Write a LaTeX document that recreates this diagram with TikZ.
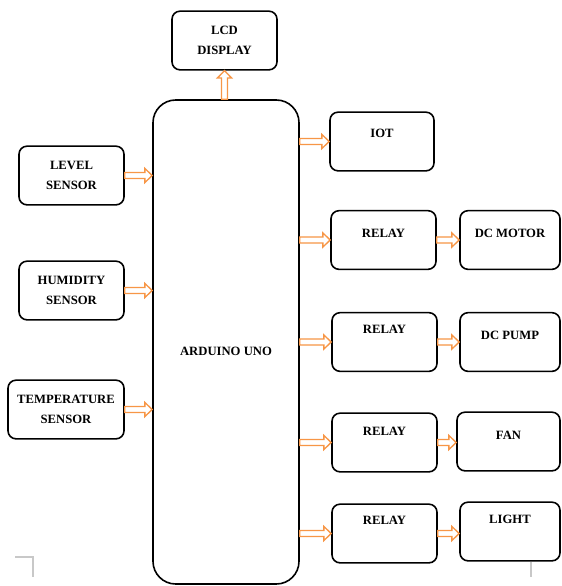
\documentclass[tikz,border=0pt]{standalone}
\usepackage{fontspec}
\setmainfont{Liberation Serif}
\usepackage{tikz}
\usetikzlibrary{calc}
\definecolor{arroworange}{RGB}{247,150,70}
\definecolor{markgray}{RGB}{200,200,200}

\begin{document}
\begin{tikzpicture}[x=0.75pt, y=-0.75pt,
  box/.style={draw, line width=1.2pt, rounded corners=6pt, align=center,
    inner sep=0pt, minimum width=78.75pt, minimum height=44pt,
    font=\fontsize{9.5}{14.5}\selectfont\bfseries},
  blockarrow/.style={draw=arroworange, line width=1pt, fill=white,
    to path={let \p1=(\tikztostart), \p2=(\tikztotarget),
      \p3=($(\p2)!5.5pt!(\p1)$) in
      ($(\p1)!2.3pt!90:(\p2)$) -- ($(\p3)!2.3pt!90:(\p2)$)
      -- ($(\p3)!5.3pt!90:(\p2)$) -- (\p2)
      -- ($(\p3)!5.3pt!-90:(\p2)$) -- ($(\p3)!2.3pt!-90:(\p2)$)
      -- ($(\p1)!2.3pt!-90:(\p2)$) -- cycle}}]
\useasboundingbox (0,0) rectangle (561,586);
% controller
\path (226,342) node[box, rounded corners=17pt, minimum width=109.5pt,
  minimum height=363pt, text height=21pt] (ard) {ARDUINO UNO};
\path (224.5,40.5) node[box] (lcd) {LCD\\DISPLAY};
% sensors
\path (71.5,175.5) node[box] (lvl) {LEVEL\\SENSOR};
\path (71.5,290.5) node[box] (hum) {HUMIDITY\\SENSOR};
\path (66,409.5) node[box, minimum width=87pt] (tmp) {TEMPERATURE\\SENSOR};
% outputs
\path (382,141.5) node[box, minimum width=78pt, text depth=12.8pt] (iot) {IOT};
\path (383.5,240) node[box, text depth=10.5pt] (rly1) {RELAY};
\path (384.5,342) node[box, text depth=19.5pt] (rly2) {RELAY};
\path (384.5,442.5) node[box, text depth=17.2pt] (rly3) {RELAY};
\path (384.5,533.5) node[box, text depth=20.2pt] (rly4) {RELAY};
\path (510,240) node[box, minimum width=75pt, text depth=10.5pt] (mot) {DC MOTOR};
\path (510,342) node[box, minimum width=75pt, text depth=10.5pt] (pmp) {DC PUMP};
\path (508.5,441.5) node[box, minimum width=77.25pt, text depth=9.8pt] (fan) {FAN};
\path (510,531.5) node[box, minimum width=75pt, text depth=18.8pt] (lgt) {LIGHT};
% arrows
\draw[blockarrow] (lcd.south |- ard.north) to (lcd.south);
\draw[blockarrow] (lvl.east) to (lvl.east -| ard.west);
\draw[blockarrow] (hum.east) to (hum.east -| ard.west);
\draw[blockarrow] (tmp.east) to (tmp.east -| ard.west);
\draw[blockarrow] (ard.east |- iot.west) to (iot.west);
\draw[blockarrow] (ard.east |- rly1.west) to (rly1.west);
\draw[blockarrow] (ard.east |- rly2.west) to (rly2.west);
\draw[blockarrow] (ard.east |- rly3.west) to (rly3.west);
\draw[blockarrow] (ard.east |- rly4.west) to (rly4.west);
\draw[blockarrow] (rly1.east) to (rly1.east -| mot.west);
\draw[blockarrow] (rly2.east) to (rly2.east -| pmp.west);
\draw[blockarrow] (rly3.east) to (rly3.east -| fan.west);
\draw[blockarrow] (rly4.east) to (rly4.east -| lgt.west);
% page corner marks
\draw[markgray, line width=0.8pt] (15,557) -- (33,557) -- (33,577);
\draw[markgray, line width=0.8pt] (531,562) -- (531,577);
\end{tikzpicture}
\end{document}
